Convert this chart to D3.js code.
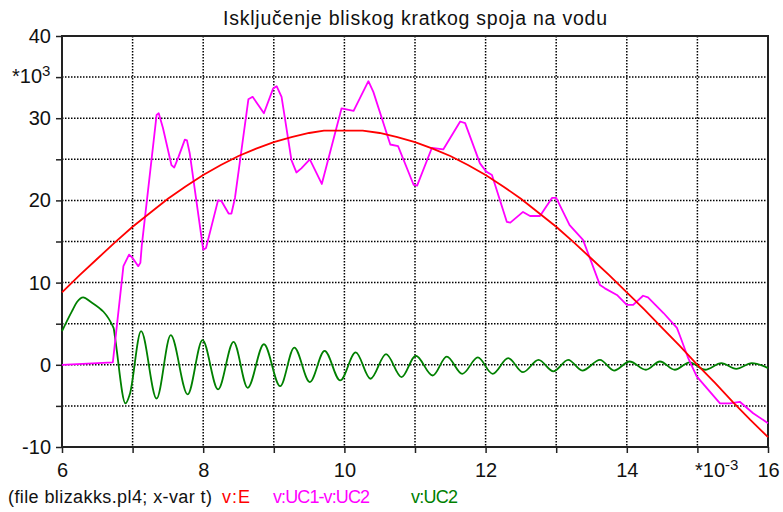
<!DOCTYPE html>
<html><head><meta charset="utf-8">
<script src="https://cdn.jsdelivr.net/npm/d3@7"></script>
<style>body{margin:0;background:#fff;} svg{display:block;font-family:"Liberation Sans",Arial,sans-serif;}</style>
</head><body>
<svg id="c" width="783" height="512"></svg>
<script>
const title = "Isključenje bliskog kratkog spoja na vodu";
const xTicks = [6, 8, 10, 12, 14, 16];
const yTicks = [-10, 0, 10, 20, 30, 40];
const legendItems = ["v:E", "v:UC1-v:UC2", "v:UC2"];
const legendColors = ["#ff0000", "#ff00ff", "#008000"];

const tE = [6, 6.25, 6.5, 6.75, 7, 7.25, 7.5, 7.75, 8, 8.25, 8.5, 8.75, 9, 9.25, 9.5, 9.71, 10.26, 10.5, 10.75, 11, 11.25, 11.5, 11.75, 12, 12.25, 12.5, 12.75, 13, 13.25, 13.5, 13.75, 14, 14.25, 14.5, 14.75, 15, 15.25, 15.5, 15.75, 16];
const vE = [8.8, 10.9, 12.9, 14.9, 16.8, 18.5, 20.2, 21.7, 23.1, 24.3, 25.4, 26.3, 27.1, 27.7, 28.2, 28.5, 28.5, 28.2, 27.7, 27.1, 26.3, 25.4, 24.3, 23.1, 21.7, 20.2, 18.5, 16.8, 14.9, 12.9, 10.9, 8.8, 6.7, 4.5, 2.3, 0.0, -2.2, -4.5, -6.7, -8.8];

const tUC = [6, 6.72, 6.87, 6.95, 7.0, 7.08, 7.11, 7.13, 7.34, 7.37, 7.43, 7.55, 7.59, 7.65, 7.74, 7.77, 7.81, 8.0, 8.04, 8.21, 8.26, 8.36, 8.40, 8.45, 8.64, 8.70, 8.78, 8.86, 8.99, 9.04, 9.11, 9.25, 9.32, 9.39, 9.51, 9.68, 9.96, 10.13, 10.34, 10.41, 10.65, 10.76, 10.98, 11.03, 11.24, 11.40, 11.64, 11.71, 11.92, 12.01, 12.09, 12.30, 12.35, 12.53, 12.63, 12.77, 12.94, 13.0, 13.19, 13.38, 13.45, 13.62, 13.69, 13.86, 14.0, 14.09, 14.23, 14.30, 14.52, 14.71, 14.75, 14.87, 14.99, 15.32, 15.46, 15.60, 15.79, 16.0];
const vUC = [0, 0.3, 12.0, 13.4, 13.0, 12.0, 12.4, 14.5, 30.4, 30.6, 28.8, 24.3, 24.0, 25.3, 27.4, 27.3, 25.7, 14.0, 14.2, 20.0, 19.9, 18.4, 18.4, 20.3, 32.3, 32.6, 31.6, 30.6, 33.6, 33.9, 32.6, 24.9, 23.4, 23.9, 25.0, 22.0, 31.2, 30.9, 34.5, 33.2, 26.8, 26.6, 21.9, 21.8, 26.4, 26.2, 29.6, 29.4, 24.5, 23.5, 23.1, 17.4, 17.3, 18.6, 18.1, 18.1, 20.3, 20.3, 17.0, 15.2, 13.6, 9.7, 9.3, 8.5, 7.3, 7.3, 8.4, 8.2, 6.3, 4.5, 3.6, 0.8, -1.4, -4.7, -4.7, -4.5, -5.9, -7.1];

const tG = [6.0, 6.14, 6.21, 6.30, 6.40, 6.73, 6.75, 6.90, 6.96, 7.12, 7.34, 7.54, 7.78, 7.99, 8.21, 8.43, 8.63, 8.86, 9.09, 9.29, 9.51, 9.72, 9.94, 10.16, 10.37, 10.59, 10.81, 11.01, 11.25, 11.45, 11.67, 11.89, 12.10, 12.32, 12.53, 12.75, 12.96, 13.17, 13.37, 13.62, 13.82, 14.04, 14.27, 14.47, 14.68, 14.89, 15.11, 15.34, 15.55, 15.77, 16.0];
const vG = [4.1, 6.5, 7.6, 8.2, 7.7, 4.5, 3.4, -4.7, -3.6, 4.1, -4.1, 3.6, -3.6, 3.0, -3.0, 2.8, -2.8, 2.5, -2.6, 2.1, -2.1, 1.7, -1.9, 1.5, -1.7, 1.3, -1.5, 1.1, -1.3, 1.0, -1.1, 0.9, -1.1, 0.8, -0.9, 0.6, -0.8, 0.6, -0.7, 0.6, -0.7, 0.4, -0.6, 0.4, -0.6, 0.3, -0.6, 0.2, -0.5, 0.2, -0.4];

const svg = d3.select("#c");
const L = 62, R = 768, T = 36, B = 447;
const x = d3.scaleLinear().domain([6, 16]).range([L, R]);
const y = d3.scaleLinear().domain([-10, 40]).range([B, T]);
const FF = "Liberation Sans, Arial, sans-serif";

// grid
const gx = d3.range(7, 16, 1), gy = d3.range(-5, 40, 5);
svg.append("g").selectAll("line").data(gx).join("line")
  .attr("x1", d => x(d)).attr("x2", d => x(d)).attr("y1", T).attr("y2", B)
  .attr("stroke", "#000").attr("stroke-width", 1.5).attr("stroke-dasharray", "1.5,1.5");
svg.append("g").selectAll("line").data(gy).join("line")
  .attr("y1", d => y(d)).attr("y2", d => y(d)).attr("x1", L).attr("x2", R)
  .attr("stroke", "#000").attr("stroke-width", 1.5).attr("stroke-dasharray", "1.5,1.5");

// axes
const xAxis = d3.axisBottom(x).tickValues(d3.range(6, 17, 1)).tickSize(6).tickFormat(d => xTicks.includes(d) ? d : "");
const gxa = svg.append("g").attr("transform", `translate(0,${B})`).call(xAxis);
gxa.select(".domain").remove();
gxa.selectAll("line").attr("stroke", "#222").attr("stroke-width", 1.5);
gxa.selectAll("text").attr("font-size", 20).attr("fill", "#111").attr("y", 30).attr("dy", 0).attr("font-family", FF);

const yAxis = d3.axisLeft(y).tickValues(d3.range(-10, 45, 5)).tickSize(6).tickFormat(d => yTicks.includes(d) ? d : "");
const gya = svg.append("g").attr("transform", `translate(${L},0)`).call(yAxis);
gya.select(".domain").remove();
gya.selectAll("line").attr("stroke", "#222").attr("stroke-width", 1.5);
gya.selectAll("text").attr("font-size", 20).attr("fill", "#111").attr("x", -11).attr("font-family", FF);

// frame
svg.append("rect").attr("x", L).attr("y", T).attr("width", R - L).attr("height", B - T)
  .attr("fill", "none").attr("stroke", "#222").attr("stroke-width", 2);

// exponent labels
const ex = svg.append("text").attr("x", 12).attr("y", 83).attr("font-size", 20).attr("fill", "#111");
ex.append("tspan").text("*10");
ex.append("tspan").attr("font-size", 15).attr("dy", -7).text("3");
const ex2 = svg.append("text").attr("x", 695).attr("y", 477).attr("font-size", 20).attr("fill", "#111");
ex2.append("tspan").text("*10");
ex2.append("tspan").attr("font-size", 15).attr("dy", -7).text("-3");

// lines
const line = d3.line().x(d => x(d[0])).y(d => y(d[1]));
const lineG = d3.line().x(d => x(d[0])).y(d => y(d[1])).curve(d3.curveMonotoneX);
svg.append("path").datum(tG.map((t, i) => [t, vG[i]])).attr("d", lineG)
  .attr("fill", "none").attr("stroke", legendColors[2]).attr("stroke-width", 1.8);
svg.append("path").datum(tUC.map((t, i) => [t, vUC[i]])).attr("d", line)
  .attr("fill", "none").attr("stroke", legendColors[1]).attr("stroke-width", 1.8).attr("stroke-linejoin", "round");
svg.append("path").datum(tE.map((t, i) => [t, vE[i]])).attr("d", line)
  .attr("fill", "none").attr("stroke", legendColors[0]).attr("stroke-width", 1.8);

// title
svg.append("text").attr("x", 223).attr("y", 25)
  .attr("font-size", 19.5).attr("fill", "#111")
  .attr("textLength", 384).attr("lengthAdjust", "spacing").text(title);

// legend
svg.append("text").attr("x", 8).attr("y", 503).attr("font-size", 18).attr("fill", "#111")
  .attr("textLength", 204).attr("lengthAdjust", "spacing").text("(file blizakks.pl4; x-var t)");
const lx = [222, 273, 411];
const lw = [28, 97, 47];
legendItems.forEach((s, i) => {
  svg.append("text").attr("x", lx[i]).attr("y", 503).attr("font-size", 18).attr("fill", legendColors[i])
    .attr("textLength", lw[i]).attr("lengthAdjust", "spacing").text(s);
});
</script>
</body></html>
